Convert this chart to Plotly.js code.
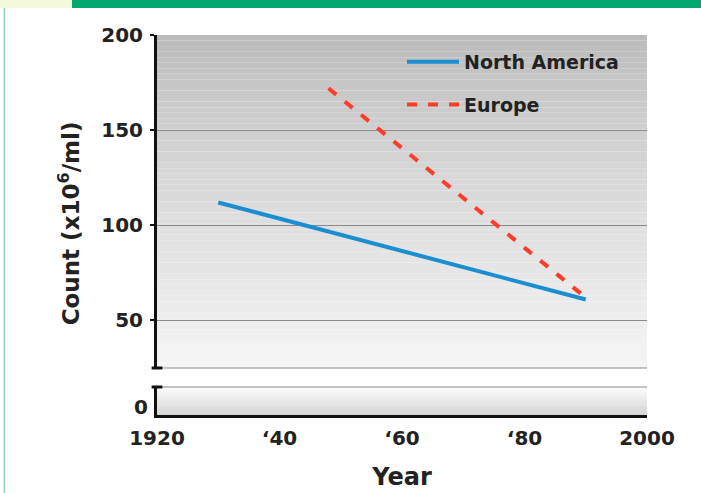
<!DOCTYPE html>
<html>
<head>
<meta charset="utf-8">
<script src="https://cdn.plot.ly/plotly-3.0.1.min.js"></script>
<style>html,body{margin:0;padding:0;background:#fff;}#chart{width:701px;height:493px;}</style>
</head>
<body>
<div id="chart"></div>
<script>
// Data
const naYears = [1930, 1990];
const naCounts = [112, 61];
const euYears = [1948, 1990];
const euCounts = [172, 62];
const xTickVals = [1920, 1940, 1960, 1980, 2000];
const xTickText = ["1920", "\u201840", "\u201860", "\u201880", "2000"];
const yUpperTicks = [50, 100, 150, 200];
const yLowerTicks = [0];

const FONT = "DejaVu Sans, Liberation Sans, Arial, sans-serif";

const traces = [
  {x: naYears, y: naCounts, xaxis: "x", yaxis: "y2", mode: "lines", name: "<b>North America</b>",
   legendgroup: "na", line: {color: "#1a8ed1", width: 4}},
  {x: euYears, y: euCounts, xaxis: "x", yaxis: "y2", mode: "lines", name: "<b>Europe</b>",
   legendgroup: "eu", line: {color: "#ff3c28", width: 4, dash: "10px,11px"}},
  // empty trace so the lower (broken) panel of the axis is created
  {x: [], y: [], xaxis: "x", yaxis: "y", mode: "lines", showlegend: false, hoverinfo: "skip"}
];

const shapes = [];
function mix(a, b, t) { return Math.round(a + (b - a) * t); }
const N = 60;
for (let i = 0; i < N; i++) {
  const t = i / (N - 1);
  const cu = mix(186, 244, Math.pow(t, 0.8));
  shapes.push({type: "rect", xref: "x domain", yref: "y2 domain", x0: 0, x1: 1,
    y0: 1 - (i + 1) / N, y1: 1 - i / N, fillcolor: `rgb(${cu},${cu},${cu})`,
    line: {width: 0}, layer: "below"});
  const cl = mix(250, 198, t);
  shapes.push({type: "rect", xref: "x domain", yref: "y domain", x0: 0, x1: 1,
    y0: 1 - (i + 1) / N, y1: 1 - i / N, fillcolor: `rgb(${cl},${cl},${cl})`,
    line: {width: 0}, layer: "below"});
}
shapes.push({type: "line", xref: "x domain", yref: "y2 domain", x0: 0, x1: 1, y0: 0, y1: 0,
  line: {color: "#8a8a8a", width: 1.2}});
shapes.push({type: "line", xref: "x domain", yref: "y domain", x0: 0, x1: 1, y0: 1, y1: 1,
  line: {color: "#8a8a8a", width: 1.2}});
shapes.push({type: "line", xref: "paper", yref: "y2 domain", x0: -0.011, x1: 0.011, y0: 0, y1: 0,
  line: {color: "#111", width: 3}});
shapes.push({type: "line", xref: "paper", yref: "y domain", x0: -0.011, x1: 0.011, y0: 1, y1: 1,
  line: {color: "#111", width: 3}});
shapes.push({type: "rect", xref: "paper", yref: "paper", x0: -0.1735, x1: 1.12, y0: 1.0711, y1: 1.1,
  fillcolor: "#00a870", line: {width: 0}});
shapes.push({type: "rect", xref: "paper", yref: "paper", x0: -0.33, x1: -0.1735, y0: 1.0711, y1: 1.1,
  fillcolor: "#f4f9dc", line: {width: 0}});
shapes.push({type: "line", xref: "paper", yref: "paper", x0: -0.3114, x1: -0.3114, y0: -0.3, y1: 1.0711,
  line: {color: "#8ed3b8", width: 1.5}});

const tickFont = {family: FONT, size: 20, color: "#222", weight: "bold"};

const layout = {
  width: 701, height: 493,
  margin: {l: 157, r: 54, t: 35, b: 78, pad: 0},
  paper_bgcolor: "#ffffff",
  plot_bgcolor: "rgba(0,0,0,0)",
  font: {family: FONT, color: "#222", size: 18},
  showlegend: true,
  legend: {x: 0.5, y: 0.979, xanchor: "left", yanchor: "top", bgcolor: "rgba(0,0,0,0)",
    font: {family: FONT, size: 19, color: "#222"}, itemwidth: 52, tracegroupgap: 15,
    traceorder: "grouped"},
  xaxis: {range: [1920, 2000], anchor: "y", tickmode: "array", tickvals: xTickVals, ticktext: xTickText,
    showline: true, linecolor: "#111", linewidth: 3, ticks: "", showgrid: false, zeroline: false,
    tickfont: tickFont, ticklabelstandoff: 3,
    title: {text: "<b>Year</b>", font: {family: FONT, size: 24, color: "#222"}, standoff: 20}},
  yaxis: {domain: [0, 0.0737], range: [-4, 10], anchor: "x", tickmode: "array", tickvals: yLowerTicks,
    showline: true, linecolor: "#111", linewidth: 3, ticks: "", showgrid: false, zeroline: false,
    tickfont: tickFont, ticklabelstandoff: 2},
  yaxis2: {domain: [0.1237, 1], range: [25, 200], anchor: "x", tickmode: "array", tickvals: yUpperTicks,
    showline: true, linecolor: "#111", linewidth: 3, ticks: "outside", ticklen: 4, tickwidth: 2, tickcolor: "#111",
    showgrid: true, gridcolor: "#8a8a8a", gridwidth: 1.2, zeroline: false,
    tickfont: tickFont, ticklabelstandoff: 3,
    title: {text: "<b>Count (x10<sup>6</sup>/ml)</b>&nbsp;&nbsp;&nbsp;&nbsp;&nbsp;&nbsp;", font: {family: FONT, size: 23, color: "#222"}, standoff: 16}},
  shapes: shapes
};

Plotly.newPlot("chart", traces, layout, {displayModeBar: false, staticPlot: true});
</script>
</body>
</html>
